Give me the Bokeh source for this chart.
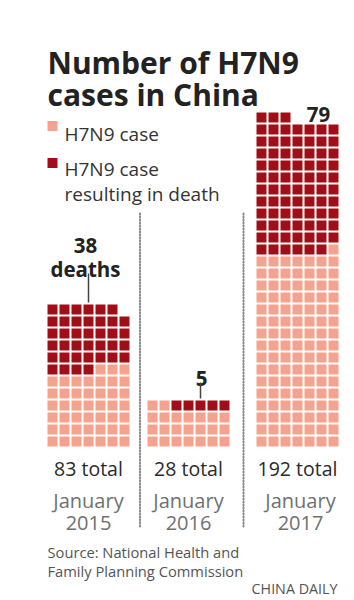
from bokeh.plotting import figure
from bokeh.models import Range1d
from bokeh.core.properties import value
from bokeh.embed import file_html
from bokeh.resources import INLINE

# ---- data ----
months = ["January", "January", "January"]
years = ["2015", "2016", "2017"]
totals = [83, 28, 192]
deaths = [38, 5, 79]
total_labels = ["83 total", "28 total", "192 total"]
death_labels = ["38\ndeaths", "5", "79"]
legend_labels = ["H7N9 case", "H7N9 case\nresulting in death"]
title_lines = ["Number of H7N9", "cases in China"]
source_lines = ["Source: National Health and", "Family Planning Commission"]
credit = "CHINA DAILY"

# ---- style / layout ----
W, H = 354, 600
COLS = 7
PITCH = 12
CELL = 10
BASE = 446           # bottom of the cells
group_x = [47, 147, 256]
partial_side = ["left", "right", "left"]
PINK = "#F5A38E"
DARK = "#A10E17"
TXT = "#222222"
GREY = "#707070"
FONT = "Open Sans"
BOLD = "Open Sans"

p = figure(width=W, height=H, x_range=Range1d(0, W), y_range=Range1d(H, 0),
           output_backend="svg", toolbar_location=None,
           x_axis_location=None, y_axis_location=None, min_border=0)
p.grid.visible = False
p.outline_line_color = None
p.background_fill_color = "white"
p.border_fill_color = "white"

# ---- waffle cells ----
xs, ys, cs = [], [], []
for g, (tot, d) in enumerate(zip(totals, deaths)):
    nfull, rem = divmod(tot, COLS)
    rows = [COLS] * nfull + ([rem] if rem else [])
    left_d = d
    for r in range(len(rows) - 1, -1, -1):
        k = rows[r]
        if left_d >= k:
            dark = set(range(k))
        elif left_d > 0:
            if partial_side[g] == "left":
                dark = set(range(left_d))
            else:
                dark = set(range(k - left_d, k))
        else:
            dark = set()
        left_d -= len(dark)
        for c in range(k):
            xs.append(group_x[g] + c * PITCH + CELL / 2)
            ys.append(BASE - r * PITCH - CELL / 2)
            cs.append(DARK if c in dark else PINK)
p.rect(x=xs, y=ys, width=CELL, height=CELL, fill_color=cs, line_color=None)

# ---- separators ----
for sx in [139.5, 243]:
    p.segment(x0=[sx], y0=[213], x1=[sx], y1=[528], line_color="#8a8a8a",
              line_width=2, line_dash="1 2", line_cap="round")

# ---- title ----
p.text(x=[47, 47], y=[62, 94], text=title_lines, text_font=value(BOLD),
       text_font_style="bold", text_font_size="30px", text_color=TXT,
       text_baseline="alphabetic", text_align="left")

# ---- legend ----
p.rect(x=[52, 52], y=[125.5, 162.5], width=10, height=10,
       fill_color=[PINK, DARK], line_color=None)
p.text(x=[64, 64, 64], y=[133, 168, 193],
       text=[legend_labels[0]] + legend_labels[1].split("\n"),
       text_font=value(FONT), text_font_size="19px", text_color="#333333",
       text_baseline="alphabetic", text_align="left")

# ---- death annotations ----
ann_x = [85, 201, 318]
p.text(x=[ann_x[0], ann_x[0]], y=[245, 268], text=death_labels[0].split("\n"),
       text_font=value(BOLD), text_font_style="bold", text_font_size="20.5px",
       text_color=TXT, text_baseline="alphabetic", text_align="center")
p.text(x=ann_x[1:], y=[378, 114], text=death_labels[1:],
       text_font=value(BOLD), text_font_style="bold", text_font_size="20.5px",
       text_color=TXT, text_baseline="alphabetic", text_align="center")
col_centers = [group_x[0] + 3 * PITCH + CELL / 2, group_x[1] + 4 * PITCH + CELL / 2]
tops = [BASE - ((totals[0] + COLS - 1) // COLS) * PITCH, BASE - ((totals[1] + COLS - 1) // COLS) * PITCH]
p.segment(x0=col_centers, y0=[273, 382], x1=col_centers, y1=tops,
          line_color="#444444", line_width=1.5)

# ---- bottom labels ----
centers = [gx + (COLS * PITCH - 2) / 2 for gx in group_x]
p.text(x=centers, y=[468] * 3, text=total_labels, text_font=value(FONT),
       text_font_size="19.5px", text_color="#2a2a2a",
       text_baseline="alphabetic", text_align="center")
mcent = [centers[0], centers[1], centers[2] + 3]
p.text(x=mcent, y=[500] * 3, text=months, text_font=value(FONT),
       text_font_size="20px", text_color=GREY,
       text_baseline="alphabetic", text_align="center")
p.text(x=mcent, y=[522.5] * 3, text=years, text_font=value(FONT),
       text_font_size="20px", text_color=GREY,
       text_baseline="alphabetic", text_align="center")

# ---- source / credit ----
p.text(x=[47, 47], y=[551, 570], text=source_lines, text_font=value(FONT),
       text_font_size="14.7px", text_color="#555555",
       text_baseline="alphabetic", text_align="left")
p.text(x=[337], y=[588], text=[credit], text_font=value(FONT),
       text_font_size="14.3px", text_color="#555555",
       text_baseline="alphabetic", text_align="right")

open("out.html", "w").write(file_html(p, INLINE))
